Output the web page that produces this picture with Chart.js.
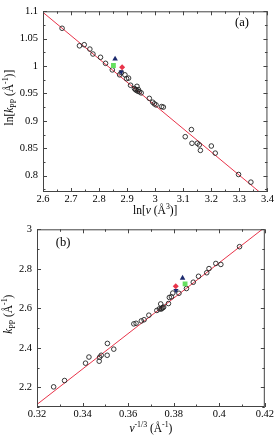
<!DOCTYPE html>
<html>
<head>
<meta charset="utf-8">
<script src="https://cdn.jsdelivr.net/npm/chart.js@4.4.1/dist/chart.umd.min.js"></script>
<style>
  html, body { margin: 0; padding: 0; background: #fff; }
  .box { position: relative; width: 275px; height: 218px; }
</style>
</head>
<body>
<div class="box"><canvas id="chartA"></canvas></div>
<div class="box"><canvas id="chartB"></canvas></div>
<script>
// panel (a): ln k_PP vs ln v
const lnVolA = [2.668, 2.730, 2.747, 2.767, 2.778, 2.805, 2.823, 2.847, 2.873, 2.879, 2.892, 2.898, 2.905, 2.912,
  2.926, 2.930, 2.932, 2.935, 2.938, 2.940, 2.944, 2.950, 2.979, 2.991, 2.997, 3.003, 3.023, 3.029,
  3.107, 3.129, 3.131, 3.150, 3.157, 3.161, 3.200, 3.214, 3.297, 3.341];
const lnKppA = [1.069, 1.037, 1.039, 1.031, 1.022, 1.016, 1.005, 0.993, 0.984, 0.988, 0.984, 0.977, 0.978, 0.965,
  0.959, 0.957, 0.956, 0.963, 0.954, 0.957, 0.953, 0.951, 0.941, 0.934, 0.931, 0.929, 0.926, 0.925,
  0.871, 0.884, 0.859, 0.859, 0.856, 0.846, 0.854, 0.841, 0.802, 0.788];
const fitXA = [2.6, 3.4];
const fitYA = [1.098, 0.758];
const specialXA = { up: 2.857, square: 2.851, red: 2.882, down: 2.879 };
const specialYA = { up: 1.013, square: 1.001, red: 0.998, down: 0.989 };
const xTicksA = [2.6, 2.7, 2.8, 2.9, 3, 3.1, 3.2, 3.3, 3.4];
const xLabelsA = ['2.6', '2.7', '2.8', '2.9', '3', '3.1', '3.2', '3.3', '3.4'];
const yTicksA = [0.8, 0.85, 0.9, 0.95, 1, 1.05, 1.1];
const yLabelsA = ['0.8', '0.85', '0.9', '0.95', '1', '1.05', '1.1'];

// panel (b): k_PP vs v^-1/3
const invVolB = [0.3273, 0.3321, 0.3413, 0.3428, 0.3473, 0.3475, 0.3482, 0.3509, 0.3508, 0.3537, 0.3625, 0.3635,
  0.3658, 0.3670, 0.3691, 0.3726, 0.3737, 0.3743, 0.3745, 0.3748, 0.3752, 0.3756, 0.3777, 0.3781, 0.3790,
  0.3796, 0.3823, 0.3856, 0.3886, 0.3909, 0.3945, 0.3955, 0.3985, 0.4007, 0.4089];
const kppB = [2.202, 2.234, 2.322, 2.353, 2.332, 2.352, 2.362, 2.422, 2.362, 2.393, 2.521, 2.524,
  2.536, 2.542, 2.565, 2.589, 2.597, 2.622, 2.596, 2.600, 2.603, 2.606, 2.624, 2.655, 2.658,
  2.677, 2.676, 2.700, 2.732, 2.762, 2.780, 2.801, 2.827, 2.822, 2.912];
const fitXB = [0.32, 0.42];
const fitYB = [2.113, 3.010];
const specialXB = { up: 0.3839, square: 0.3850, red: 0.3809, down: 0.3810 };
const specialYB = { up: 2.753, square: 2.724, red: 2.712, down: 2.690 };
const xTicksB = [0.32, 0.34, 0.36, 0.38, 0.4, 0.42];
const xLabelsB = ['0.32', '0.34', '0.36', '0.38', '0.4', '0.42'];
const yTicksB = [2.2, 2.4, 2.6, 2.8, 3];
const yLabelsB = ['2.2', '2.4', '2.6', '2.8', '3'];

const FONT = '"Liberation Serif", "DejaVu Serif", serif';
const NAVY = '#1c2a6e';
const GREEN = '#66e060';
const RED = '#e8344a';

const pts = (xs, ys) => xs.map((x, i) => ({ x, y: ys[i] }));

function partFont(p, size) {
  const fs = (p.sub || p.sup) ? size * 0.68 : size;
  return (p.i ? 'italic ' : '') + fs + 'px ' + FONT;
}

function drawRich(ctx, parts, cx, cy, size, angle) {
  ctx.save();
  ctx.translate(cx, cy);
  ctx.rotate(angle);
  let w = 0;
  parts.forEach(p => { ctx.font = partFont(p, size); w += ctx.measureText(p.t).width; });
  let x = -w / 2;
  ctx.fillStyle = '#000';
  ctx.textBaseline = 'middle';
  ctx.textAlign = 'left';
  parts.forEach(p => {
    ctx.font = partFont(p, size);
    const dy = p.sub ? size * 0.3 : p.sup ? -size * 0.38 : 0;
    ctx.fillText(p.t, x, dy);
    x += ctx.measureText(p.t).width;
  });
  ctx.restore();
}

function withMinors(vals, min, max) {
  const out = [];
  const step = vals[1] - vals[0];
  for (let v = vals[0] - step / 2; v >= min - 1e-9; v -= step / 2) out.push({ v, major: false, skip: true });
  vals.forEach((v, i) => {
    out.push({ v, major: true });
    out.push({ v: v + step / 2, major: false });
  });
  return out.filter(t => t.v >= min - 1e-9 && t.v <= max + 1e-9);
}

const framePlugin = {
  id: 'frame',
  afterDraw(chart, args, o) {
    const { ctx, chartArea: a, scales } = chart;
    ctx.save();
    ctx.strokeStyle = '#444';
    ctx.lineWidth = 1;
    ctx.strokeRect(a.left + 0.5, a.top + 0.5, a.right - a.left - 1, a.bottom - a.top - 1);
    ctx.beginPath();
    withMinors(o.xTicks, scales.x.min, scales.x.max).forEach(t => {
      const px = Math.round(scales.x.getPixelForValue(t.v)) + 0.5;
      const len = t.major ? 4 : 2.5;
      ctx.moveTo(px, a.bottom); ctx.lineTo(px, a.bottom - len);
      ctx.moveTo(px, a.top); ctx.lineTo(px, a.top + len);
    });
    withMinors(o.yTicks, scales.y.min, scales.y.max).forEach(t => {
      const py = Math.round(scales.y.getPixelForValue(t.v)) + 0.5;
      const len = t.major ? 4 : 2.5;
      ctx.moveTo(a.left, py); ctx.lineTo(a.left + len, py);
      ctx.moveTo(a.right, py); ctx.lineTo(a.right - len, py);
    });
    ctx.stroke();
    drawRich(ctx, o.xTitle, (a.left + a.right) / 2, o.xTitleY, 11.5, 0);
    drawRich(ctx, o.yTitle, o.yTitleX, (a.top + a.bottom) / 2 - 4, 11.5, -Math.PI / 2);
    ctx.font = '12.5px ' + FONT;
    ctx.fillStyle = '#000';
    ctx.textAlign = 'center';
    ctx.textBaseline = 'middle';
    ctx.fillText(o.tag, o.tagX, o.tagY);
    ctx.restore();
  }
};

function makeChart(id, cfg) {
  const tickFont = { family: FONT, size: 10.5 };
  return new Chart(document.getElementById(id), {
    type: 'scatter',
    data: {
      datasets: [
        { type: 'line', data: pts(cfg.fitX, cfg.fitY), borderColor: RED, borderWidth: 1, pointRadius: 0, fill: false, order: 2 },
        { data: pts(cfg.xs, cfg.ys), pointStyle: 'circle', pointRadius: 2.3, borderWidth: 0.9,
          borderColor: '#222', backgroundColor: 'rgba(0,0,0,0)', order: 1 },
        { data: [{ x: cfg.sx.red, y: cfg.sy.red }], pointStyle: 'rectRot', pointRadius: 3, borderWidth: 0, backgroundColor: RED, order: 0 },
        { data: [{ x: cfg.sx.down, y: cfg.sy.down }], pointStyle: 'triangle', rotation: 180, pointRadius: 3, borderWidth: 0, backgroundColor: NAVY, order: 0 },
        { data: [{ x: cfg.sx.up, y: cfg.sy.up }], pointStyle: 'triangle', pointRadius: 3.2, borderWidth: 0, backgroundColor: NAVY, order: 0 },
        { data: [{ x: cfg.sx.square, y: cfg.sy.square }], pointStyle: 'rect', pointRadius: 3.4, borderWidth: 0, backgroundColor: GREEN, order: 0 }
      ]
    },
    options: {
      responsive: true,
      maintainAspectRatio: false,
      animation: false,
      events: [],
      layout: { padding: cfg.padding },
      plugins: {
        legend: { display: false },
        tooltip: { enabled: false },
        frame: { xTicks: cfg.xTicks, yTicks: cfg.yTicks, xTitle: cfg.xTitle, yTitle: cfg.yTitle,
          xTitleY: cfg.xTitleY, yTitleX: cfg.yTitleX, tag: cfg.tag, tagX: cfg.tagX, tagY: cfg.tagY }
      },
      scales: {
        x: {
          type: 'linear', min: cfg.xMin, max: cfg.xMax,
          afterBuildTicks: s => { s.ticks = cfg.xTicks.map(v => ({ value: v })); },
          afterFit: s => { s.height = cfg.xAxisH; },
          ticks: { font: tickFont, color: '#000', padding: 1, maxRotation: 0, autoSkip: false,
            callback: (v) => cfg.xLabels[cfg.xTicks.findIndex(t => Math.abs(t - v) < 1e-9)] },
          grid: { display: false, drawTicks: false },
          border: { display: false }
        },
        y: {
          type: 'linear', min: cfg.yMin, max: cfg.yMax,
          afterBuildTicks: s => { s.ticks = cfg.yTicks.map(v => ({ value: v })); },
          afterFit: s => { s.width = cfg.yAxisW; },
          ticks: { font: tickFont, color: '#000', padding: 5, autoSkip: false,
            callback: (v) => cfg.yLabels[cfg.yTicks.findIndex(t => Math.abs(t - v) < 1e-9)] },
          grid: { display: false, drawTicks: false },
          border: { display: false }
        }
      }
    },
    plugins: [framePlugin]
  });
}

makeChart('chartA', {
  xs: lnVolA, ys: lnKppA, fitX: fitXA, fitY: fitYA, sx: specialXA, sy: specialYA,
  xTicks: xTicksA, xLabels: xLabelsA, yTicks: yTicksA, yLabels: yLabelsA,
  xMin: 2.6, xMax: 3.4, yMin: 0.77, yMax: 1.1,
  padding: { top: 5, right: 7, left: 0, bottom: 0 }, xAxisH: 26, yAxisW: 43,
  xTitle: [{ t: 'ln[' }, { t: 'v', i: true }, { t: ' (Å' }, { t: '3', sup: true }, { t: ')]' }],
  yTitle: [{ t: 'ln[' }, { t: 'k', i: true }, { t: 'PP', sub: true }, { t: ' (Å' }, { t: '-1', sup: true }, { t: ')]' }],
  xTitleY: 211, yTitleX: 10, tag: '(a)', tagX: 242, tagY: 23
});

makeChart('chartB', {
  xs: invVolB, ys: kppB, fitX: fitXB, fitY: fitYB, sx: specialXB, sy: specialYB,
  xTicks: xTicksB, xLabels: xLabelsB, yTicks: yTicksB, yLabels: yLabelsB,
  xMin: 0.32, xMax: 0.42, yMin: 2.1, yMax: 3.0,
  padding: { top: 4, right: 10, left: 0, bottom: 0 }, xAxisH: 29, yAxisW: 37,
  xTitle: [{ t: 'v', i: true }, { t: '-1/3', sup: true }, { t: ' (Å' }, { t: '-1', sup: true }, { t: ')' }],
  yTitle: [{ t: 'k', i: true }, { t: 'PP', sub: true }, { t: ' (Å' }, { t: '-1', sup: true }, { t: ')' }],
  xTitleY: 211, yTitleX: 9, tag: '(b)', tagX: 63, tagY: 25
});
</script>
</body>
</html>
